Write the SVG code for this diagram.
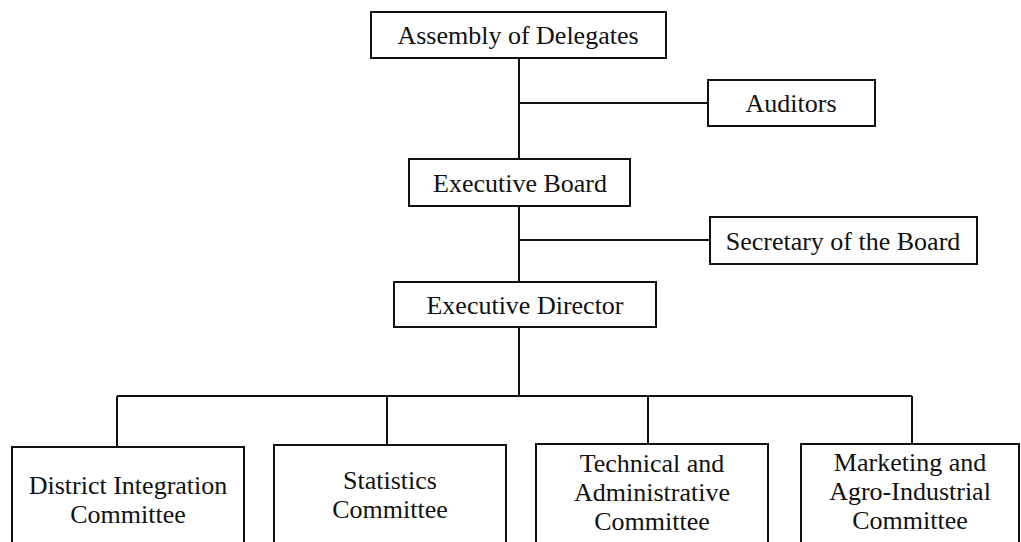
<svg xmlns="http://www.w3.org/2000/svg" width="1021" height="542" viewBox="0 0 1021 542" font-family="'Liberation Serif','Times New Roman',serif">
<style>
.box{fill:#fff;stroke:#111;stroke-width:2}
.ln{fill:none;stroke:#111;stroke-width:2}
text{font-family:"Liberation Serif","Times New Roman",serif;font-size:26px;fill:#111;text-anchor:middle}
</style>
<rect width="1021" height="542" fill="#fff"/>
<g id="connectors">
<path class="ln" d="M519 58V159M519 103H708M519 206V282M519 240H710M519 327V396M117 396H912M117 396V447M387 396V445M648 396V444M912 396V444"/>
</g>
<g id="assembly"><rect class="box" x="371" y="12" width="295" height="46"/><text x="518" y="44">Assembly of Delegates</text></g>
<g id="auditors"><rect class="box" x="708" y="80" width="167" height="46"/><text x="791" y="112">Auditors</text></g>
<g id="board"><rect class="box" x="409" y="159" width="221" height="47"/><text x="520" y="192">Executive Board</text></g>
<g id="secretary"><rect class="box" x="710" y="217" width="267" height="47"/><text x="843" y="250">Secretary of the Board</text></g>
<g id="director"><rect class="box" x="394" y="282" width="262" height="45"/><text x="525" y="314">Executive Director</text></g>
<g id="district"><rect class="box" x="12" y="447" width="232" height="110"/><text x="128" y="494">District Integration</text><text x="128" y="523">Committee</text></g>
<g id="statistics"><rect class="box" x="274" y="445" width="232" height="110"/><text x="390" y="489">Statistics</text><text x="390" y="518">Committee</text></g>
<g id="technical"><rect class="box" x="536" y="444" width="232" height="110"/><text x="652" y="472">Technical and</text><text x="652" y="501">Administrative</text><text x="652" y="530">Committee</text></g>
<g id="marketing"><rect class="box" x="801" y="444" width="218" height="110"/><text x="910" y="471">Marketing and</text><text x="910" y="500">Agro-Industrial</text><text x="910" y="529">Committee</text></g>
</svg>
